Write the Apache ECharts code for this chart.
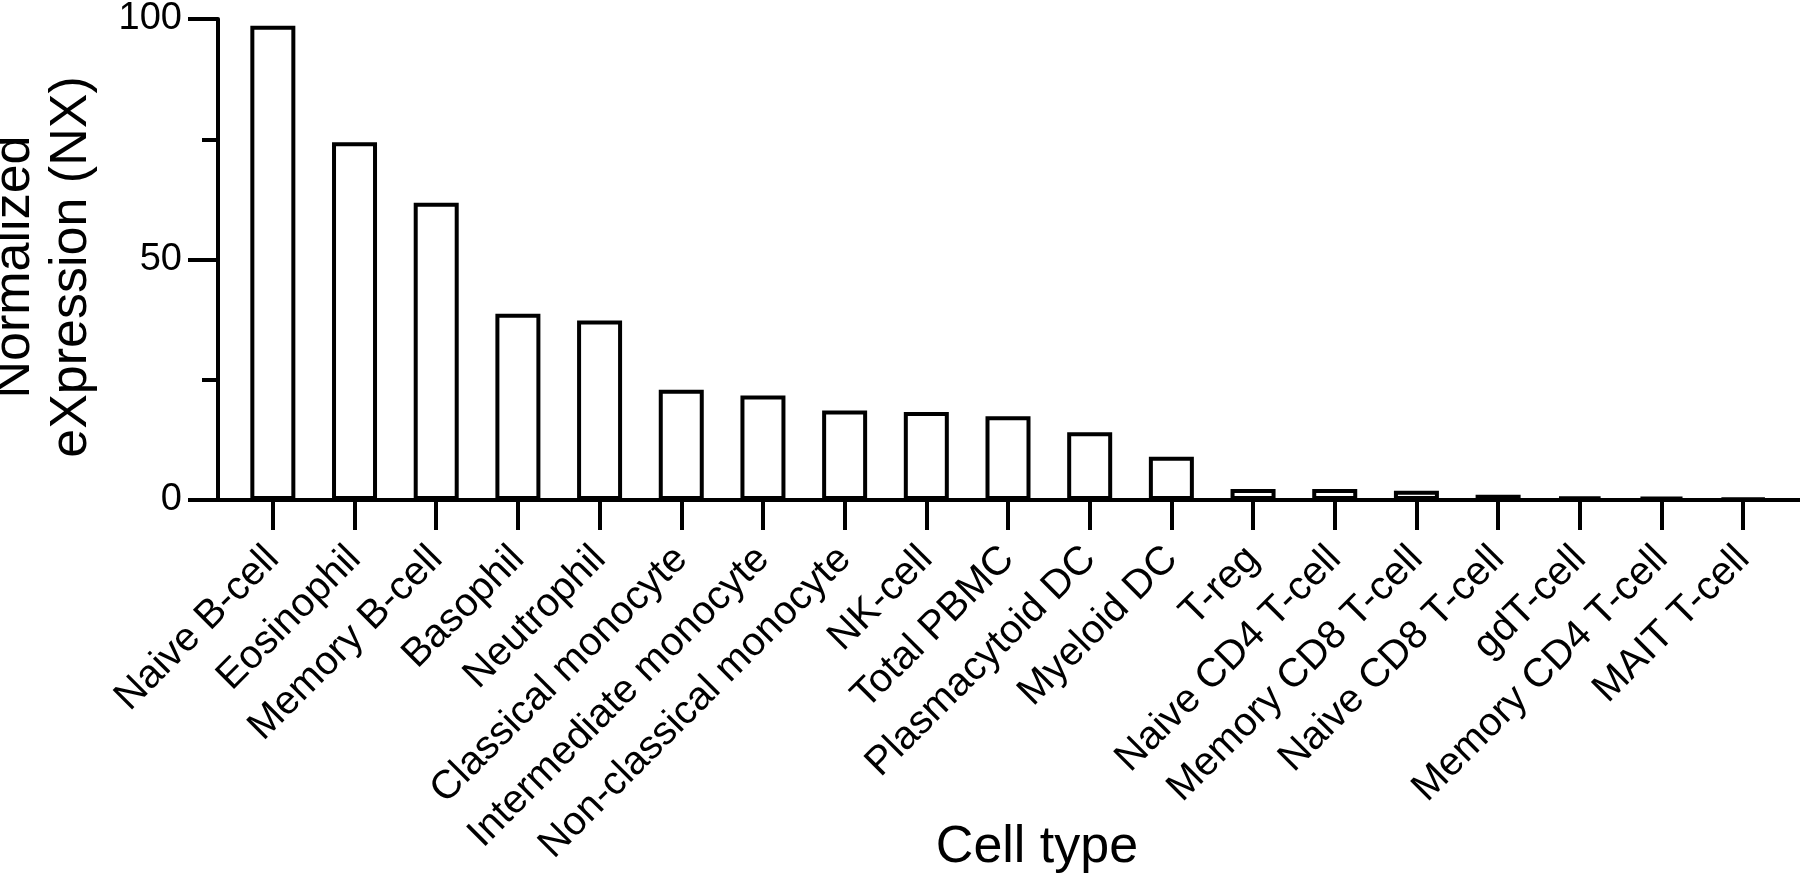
<!DOCTYPE html>
<html>
<head>
<meta charset="utf-8">
<script src="https://cdn.jsdelivr.net/npm/echarts@6/dist/echarts.min.js"></script>
<style>
  html, body { margin: 0; padding: 0; background: #fff; }
  #chart { width: 1800px; height: 880px; }
</style>
</head>
<body>
<div id="chart"></div>
<script>
const categories = [
  'Naive B-cell', 'Eosinophil', 'Memory B-cell', 'Basophil', 'Neutrophil',
  'Classical monocyte', 'Intermediate monocyte', 'Non-classical monocyte',
  'NK-cell', 'Total PBMC', 'Plasmacytoid DC', 'Myeloid DC', 'T-reg',
  'Naive CD4 T-cell', 'Memory CD8 T-cell', 'Naive CD8 T-cell', 'gdT-cell',
  'Memory CD4 T-cell', 'MAIT T-cell'
];
const nxValues = [
  98.6, 74.4, 61.8, 38.7, 37.3,
  22.9, 21.7, 18.6,
  18.3, 17.4, 14.1, 9.0, 2.3,
  2.3, 1.9, 1.1, 0.7,
  0.6, 0.3
];
const yTicks = [0, 50, 100];
const yTitle = 'Normalized\neXpression (NX)';
const xTitle = 'Cell type';

const FONT = '"Liberation Sans", Arial, Helvetica, sans-serif';
const chart = echarts.init(document.getElementById('chart'), null, { renderer: 'canvas' });

chart.setOption({
  animation: false,
  backgroundColor: '#ffffff',
  grid: [
    { left: 232, right: 16, top: 16, bottom: 380, containLabel: false },
    { left: 218, right: 0, top: 16, bottom: 380, containLabel: false }
  ],
  xAxis: [
    {
      type: 'category',
      gridIndex: 0,
      data: categories,
      axisLine: { show: false },
      axisTick: { show: true, alignWithLabel: true, length: 30, lineStyle: { color: '#000', width: 4 } },
      axisLabel: {
        rotate: 45,
        margin: 53,
        color: '#000',
        fontSize: 40,
        fontFamily: FONT,
        interval: 0
      }
    },
    {
      type: 'category',
      gridIndex: 1,
      data: [''],
      axisLine: { show: true, lineStyle: { color: '#000', width: 4 } },
      axisTick: { show: false },
      axisLabel: { show: false }
    }
  ],
  yAxis: [
    {
      type: 'value',
      gridIndex: 0,
      min: yTicks[0],
      max: yTicks[yTicks.length - 1],
      interval: 50,
      offset: 14,
      axisLine: { show: true, lineStyle: { color: '#000', width: 4 } },
      axisTick: { show: true, length: 30, lineStyle: { color: '#000', width: 4 } },
      minorTick: { show: true, splitNumber: 2, length: 16, lineStyle: { color: '#000', width: 4 } },
      splitLine: { show: false },
      axisLabel: { margin: 36, color: '#000', fontSize: 38, fontFamily: FONT }
    },
    {
      type: 'value',
      gridIndex: 1,
      show: false,
      min: 0,
      max: 100
    }
  ],
  series: [
    {
      type: 'bar',
      xAxisIndex: 0,
      yAxisIndex: 0,
      data: nxValues,
      barWidth: 45,
      itemStyle: { color: '#ffffff', borderColor: '#000', borderWidth: 4 },
      z: 3
    }
  ],
  graphic: [
    {
      type: 'text',
      x: 43,
      y: 267,
      rotation: Math.PI / 2,
      style: {
        text: yTitle,
        font: '52px ' + FONT,
        fill: '#000',
        align: 'center',
        verticalAlign: 'middle',
        textAlign: 'center',
        textVerticalAlign: 'middle',
        lineHeight: 57
      }
    },
    {
      type: 'text',
      x: 1037,
      y: 848,
      style: {
        text: xTitle,
        font: '52px ' + FONT,
        fill: '#000',
        align: 'center',
        verticalAlign: 'middle',
        textAlign: 'center',
        textVerticalAlign: 'middle'
      }
    }
  ]
});
</script>
</body>
</html>
